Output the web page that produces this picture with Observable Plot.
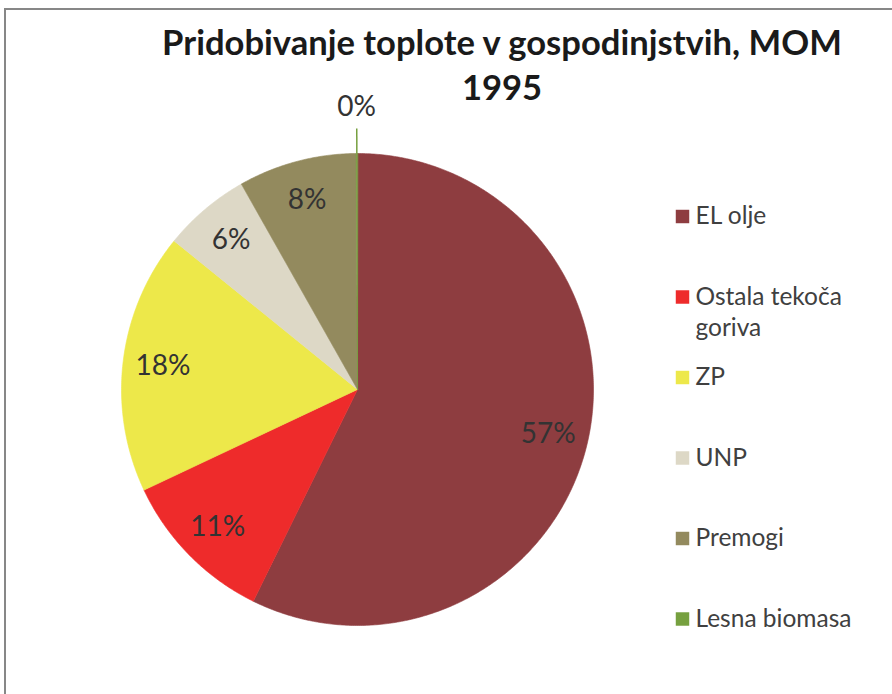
<!DOCTYPE html>
<html><head><meta charset="utf-8">
<script src="https://cdn.jsdelivr.net/npm/d3@7"></script>
<script src="https://cdn.jsdelivr.net/npm/@observablehq/plot@0.6"></script>
<style>
body{margin:0;background:#fff;}
#wrap{position:relative;width:892px;height:694px;overflow:hidden;font-family:Lato,sans-serif;}
#frame{position:absolute;left:4px;top:8px;width:950px;height:750px;border-left:2px solid #878787;border-top:2px solid #878787;}
#title{position:absolute;left:0;width:1004px;top:19px;text-align:center;font-weight:bold;font-size:34.6px;line-height:45px;color:#1a1a1a;white-space:nowrap;}
#chart{position:absolute;left:0;top:0;}
</style></head><body>
<div id="wrap"><div id="frame"></div><div id="chart"></div><div id="title">Pridobivanje toplote v gospodinjstvih, MOM<br>1995</div></div>
<script>
const categories = ["EL olje", "Ostala tekoča goriva", "ZP", "UNP", "Premogi", "Lesna biomasa"];
const legendLabels = [["EL olje"], ["Ostala tekoča", "goriva"], ["ZP"], ["UNP"], ["Premogi"], ["Lesna biomasa"]];
const shares = [57.28, 10.71, 17.85, 5.97, 8.10, 0.09];
const percentLabels = ["57%", "11%", "18%", "6%", "8%", "0%"];
const colors = ["#8E3D40", "#EE2B2B", "#EDE84A", "#DDD8C6", "#938A5E", "#76A03F"];

// layout (pixels)
const W = 892, H = 694, CX = 357, CY = 389, R = 236;
const X = px => (px - CX) / R;
const Y = py => (CY - py) / R;

const total = d3.sum(shares);
const slicePts = [];
const sliceLbl = [];
let acc = 0;
shares.forEach((v, i) => {
  const a0 = acc / total * 2 * Math.PI;
  acc += v;
  const a1 = acc / total * 2 * Math.PI;
  const n = Math.max(2, Math.ceil((a1 - a0) / (Math.PI / 360)));
  slicePts.push({cat: categories[i], x: 0, y: 0});
  for (let k = 0; k <= n; k++) {
    const a = a0 + (a1 - a0) * k / n;
    slicePts.push({cat: categories[i], x: Math.sin(a), y: Math.cos(a)});
  }
  const am = (a0 + a1) / 2;
  sliceLbl.push({cat: categories[i], text: percentLabels[i], a: am, outside: v < 1});
});
const inside = sliceLbl.filter(d => !d.outside).map(d => ({...d, x: 0.83 * Math.sin(d.a), y: 0.83 * Math.cos(d.a)}));
const outside = sliceLbl.filter(d => d.outside).map(d => ({...d, x: 1.195 * Math.sin(d.a), y: 1.195 * Math.cos(d.a),
  x1: Math.sin(d.a), y1: Math.cos(d.a), x2: 1.106 * Math.sin(d.a), y2: 1.106 * Math.cos(d.a)}));

const legendSq = categories.map((c, i) => ({cat: c, x: X(682), y: Y(216 + i * 80.5)}));
const legendTxt = [];
legendLabels.forEach((lines, i) => lines.forEach((t, j) => legendTxt.push({text: t, x: X(695), y: Y(216 + i * 80.5 + j * 31)})));

const chart = Plot.plot({
  width: W, height: H, margin: 0,
  style: {fontFamily: "Lato, sans-serif", background: "transparent"},
  x: {domain: [X(0), X(W)], range: [0, W], axis: null},
  y: {domain: [Y(H), Y(0)], range: [H, 0], axis: null},
  color: {type: "ordinal", domain: categories, range: colors},
  marks: [
    Plot.line(slicePts, {x: "x", y: "y", z: "cat", fill: "cat", stroke: "cat", strokeWidth: 0.6, curve: "linear-closed"}),
    Plot.link(outside, {x1: "x1", y1: "y1", x2: "x2", y2: "y2", stroke: "cat", strokeWidth: 1.5}),
    Plot.text(inside, {x: "x", y: "y", text: "text", fontSize: 28, fill: "#333333"}),
    Plot.text(outside, {x: "x", y: "y", text: "text", fontSize: 28, fill: "#333333"}),
    Plot.dot(legendSq, {x: "x", y: "y", fill: "cat", symbol: "square", r: 7.6, stroke: null}),
    Plot.text(legendTxt, {x: "x", y: "y", text: "text", textAnchor: "start", fontSize: 24.5, fill: "#404040"})
  ]
});
document.getElementById("chart").appendChild(chart);
</script>
</body></html>
